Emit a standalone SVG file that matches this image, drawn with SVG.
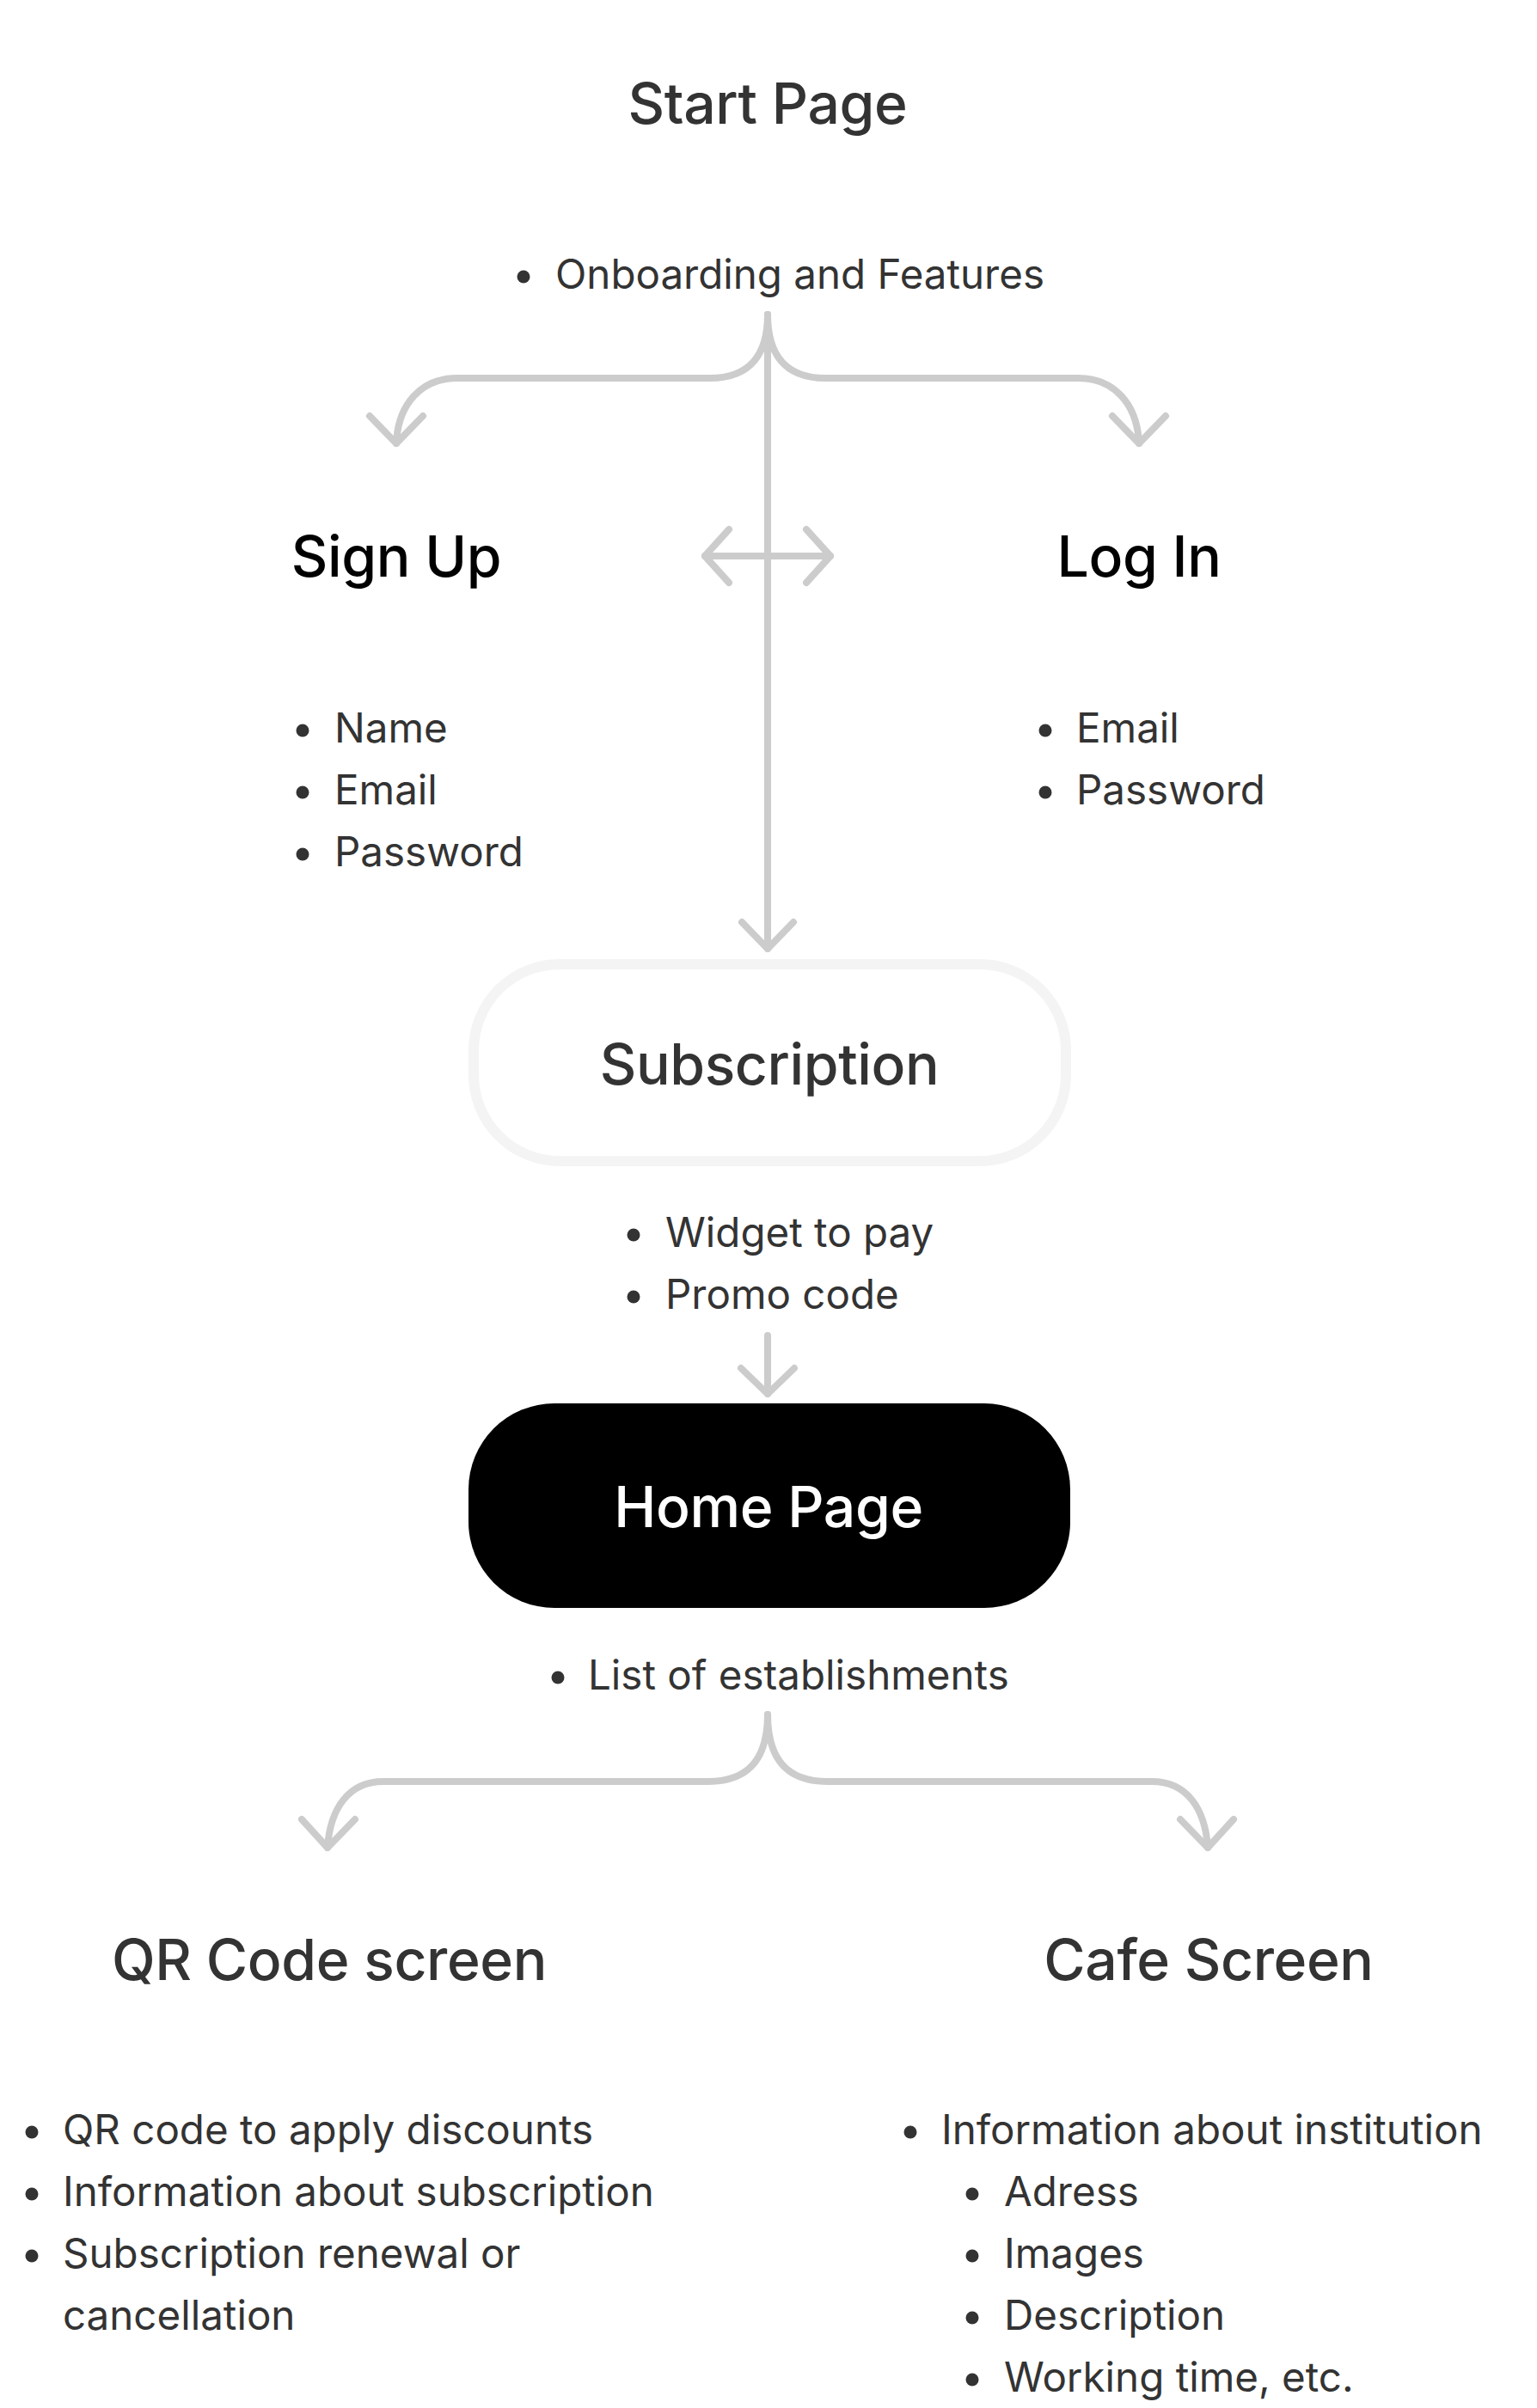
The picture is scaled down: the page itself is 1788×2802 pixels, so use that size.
<svg xmlns="http://www.w3.org/2000/svg" width="1788" height="2802" viewBox="0 0 1788 2802">
<style>
.title{font-family:Inter,"Liberation Sans",sans-serif;font-weight:500;font-size:66px;fill:#333333;letter-spacing:-0.4px}
.title.dark{fill:#000000}
.title.light{fill:#ffffff}
.body{font-family:Inter,"Liberation Sans",sans-serif;font-size:47.5px;fill:#333333}
.dot{fill:#333333}
.conn{fill:none;stroke:#CCCCCC;stroke-width:8;stroke-linecap:round;stroke-linejoin:round}
</style>
<rect width="1788" height="2802" fill="#ffffff"/>
<g id="connectors">
  <path class="conn" d="M893,366 L893,1104"/>
  <polyline class="conn" points="863,1073 893,1104 923,1073"/>
  <path class="conn" d="M893,366 C893,410 875,440 826,440 L532,440 C490,440 463,470 461,516"/>
  <polyline class="conn" points="430,484 461,516 492,484"/>
  <path class="conn" d="M893,366 C893,410 911,440 960,440 L1254,440 C1296,440 1323,470 1325,516"/>
  <polyline class="conn" points="1294,484 1325,516 1356,484"/>
  <path class="conn" d="M820,647 L966,647"/>
  <polyline class="conn" points="848,616 820,647 848,678"/>
  <polyline class="conn" points="938,616 966,647 938,678"/>
  <path class="conn" d="M893,1554 L893,1622"/>
  <polyline class="conn" points="862,1592 893,1622 924,1592"/>
  <path class="conn" d="M893,1995 C893,2045 872,2073 823,2073 L446,2073 C405,2073 384,2105 381,2150"/>
  <polyline class="conn" points="351,2117 381,2150 413,2117"/>
  <path class="conn" d="M893,1995 C893,2045 914,2073 963,2073 L1340,2073 C1381,2073 1402,2105 1405,2150"/>
  <polyline class="conn" points="1373,2117 1405,2150 1435,2117"/>
</g>
<g id="start-page">
  <text class="title" x="893" y="144" text-anchor="middle">Start Page</text>
  <circle class="dot" cx="609" cy="322" r="7.5"/>
  <text class="body" x="646" y="336">Onboarding and Features</text>
</g>
<g id="sign-up">
  <text class="title dark" x="461" y="671" text-anchor="middle">Sign Up</text>
  <circle class="dot" cx="352" cy="850" r="7.5"/>
  <text class="body" x="389" y="864">Name</text>
  <circle class="dot" cx="352" cy="922" r="7.5"/>
  <text class="body" x="389" y="936">Email</text>
  <circle class="dot" cx="352" cy="994" r="7.5"/>
  <text class="body" x="389" y="1008">Password</text>
</g>
<g id="log-in">
  <text class="title dark" x="1325" y="671" text-anchor="middle">Log In</text>
  <circle class="dot" cx="1216" cy="850" r="7.5"/>
  <text class="body" x="1252" y="864">Email</text>
  <circle class="dot" cx="1216" cy="922" r="7.5"/>
  <text class="body" x="1252" y="936">Password</text>
</g>
<g id="subscription">
  <rect x="551" y="1122" width="689" height="229" rx="100" fill="#ffffff" stroke="#F4F4F4" stroke-width="12"/>
  <text class="title" x="895" y="1262" text-anchor="middle">Subscription</text>
  <circle class="dot" cx="737" cy="1437" r="7.5"/>
  <text class="body" x="774" y="1451">Widget to pay</text>
  <circle class="dot" cx="737" cy="1509" r="7.5"/>
  <text class="body" x="774" y="1523">Promo code</text>
</g>
<g id="home-page">
  <rect x="545" y="1633" width="700" height="238" rx="100" fill="#000000"/>
  <text class="title light" x="894" y="1777" text-anchor="middle">Home Page</text>
  <circle class="dot" cx="649" cy="1952" r="7.5"/>
  <text class="body" x="684" y="1966">List of establishments</text>
</g>
<g id="qr-code-screen">
  <text class="title" x="383" y="2304" text-anchor="middle">QR Code screen</text>
  <circle class="dot" cx="37" cy="2481" r="7.5"/>
  <text class="body" x="73" y="2495">QR code to apply discounts</text>
  <circle class="dot" cx="37" cy="2553" r="7.5"/>
  <text class="body" x="73" y="2567">Information about subscription</text>
  <circle class="dot" cx="37" cy="2625" r="7.5"/>
  <text class="body" x="73" y="2639">Subscription renewal or</text>
  <text class="body" x="73" y="2711">cancellation</text>
</g>
<g id="cafe-screen">
  <text class="title" x="1406" y="2304" text-anchor="middle">Cafe Screen</text>
  <circle class="dot" cx="1059" cy="2481" r="7.5"/>
  <text class="body" x="1095" y="2495">Information about institution</text>
  <circle class="dot" cx="1131" cy="2553" r="7.5"/>
  <text class="body" x="1168" y="2567">Adress</text>
  <circle class="dot" cx="1131" cy="2625" r="7.5"/>
  <text class="body" x="1168" y="2639">Images</text>
  <circle class="dot" cx="1131" cy="2697" r="7.5"/>
  <text class="body" x="1168" y="2711">Description</text>
  <circle class="dot" cx="1131" cy="2769" r="7.5"/>
  <text class="body" x="1168" y="2783">Working time, etc.</text>
</g>
</svg>
